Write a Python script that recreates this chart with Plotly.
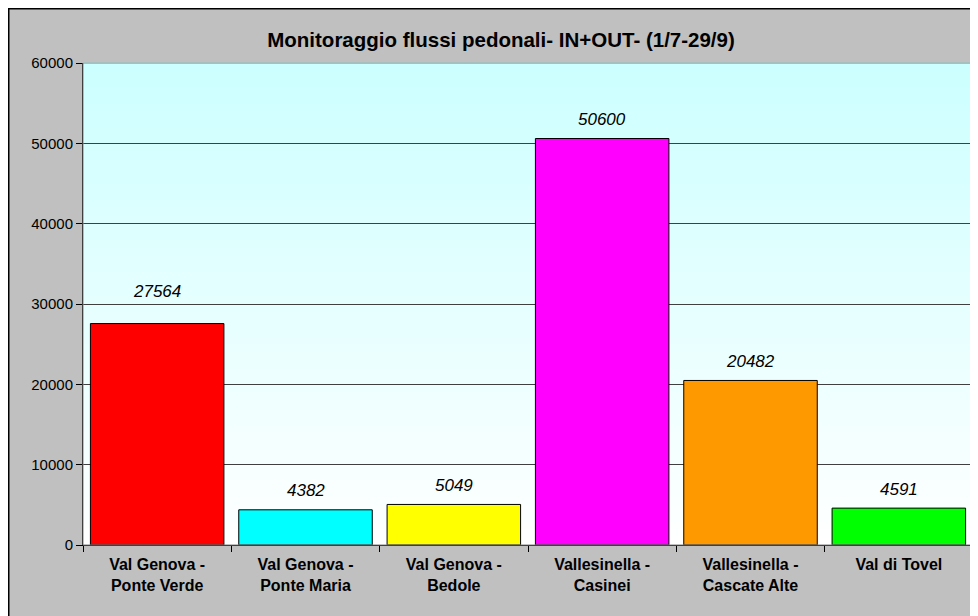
import plotly.graph_objects as go

categories = ["Val Genova -<br>Ponte Verde", "Val Genova -<br>Ponte Maria", "Val Genova -<br>Bedole",
              "Vallesinella -<br>Casinei", "Vallesinella -<br>Cascate Alte", "Val di Tovel"]
values = [27564, 4382, 5049, 50600, 20482, 4591]
bar_colors = ["#FF0000", "#00FFFF", "#FFFF00", "#FF00FF", "#FF9900", "#00FF00"]
label_shift = [32, 19, 19, 19, 19, 19]
title = "Monitoraggio flussi pedonali- IN+OUT- (1/7-29/9)"

FONT = "Liberation Sans, Arial, sans-serif"
# page has an 8px body margin, so the figure is 8px smaller than the window
W, H = 970, 608
ML, MR, MT, MB = 75, 5, 55, 71
PW, PH = W - ML - MR, H - MT - MB

def px_x(p):
    return (p - ML) / PW

def px_y(p):
    return (H - MB - p) / PH

fig = go.Figure()
fig.add_trace(go.Bar(
    x=categories, y=values,
    marker=dict(color=bar_colors, line=dict(color="#000000", width=1)),
    width=0.9,
))

shapes = []
# outer chart area (grey with black border)
shapes.append(dict(type="rect", xref="paper", yref="paper",
                   x0=px_x(0.75), x1=px_x(990), y0=px_y(630), y1=px_y(0.75),
                   fillcolor="#C0C0C0", line=dict(color="#000000", width=1.5), layer="below"))
# gradient plot background
n = 60
top = (204, 255, 255)
for i in range(n):
    t = (i + 0.5) / n  # 0 bottom -> 1 top
    c = tuple(round(255 + (top[k] - 255) * t) for k in range(3))
    shapes.append(dict(type="rect", xref="x domain", yref="y domain",
                       x0=0, x1=1, y0=i / n, y1=(i + 1) / n + 0.002,
                       fillcolor="rgb(%d,%d,%d)" % c, line=dict(width=0), layer="below"))
# plot area border
shapes.append(dict(type="rect", xref="x domain", yref="y domain", x0=0, x1=1, y0=0, y1=1,
                   line=dict(color="#808080", width=1), fillcolor="rgba(0,0,0,0)", layer="above"))

annotations = []
for cat, v, s in zip(categories, values, label_shift):
    annotations.append(dict(x=cat, y=v, text=str(v), showarrow=False, yshift=s,
                            yanchor="middle",
                            font=dict(family=FONT, size=17, style="italic", color="#000000")))

fig.update_layout(
    width=W, height=H,
    margin=dict(l=ML, r=MR, t=MT, b=MB, pad=0),
    paper_bgcolor="#FFFFFF",
    plot_bgcolor="rgba(0,0,0,0)",
    showlegend=False,
    bargap=0.1,
    title=dict(text="<b>" + title + "</b>", x=(501 - 8) / W, xref="container", xanchor="center",
               y=1 - 32 / H, yref="container", yanchor="middle",
               font=dict(family=FONT, size=20.5, color="#000000")),
    shapes=shapes,
    annotations=annotations,
    xaxis=dict(
        showgrid=False, tickson="boundaries", ticks="outside", ticklen=6, tickcolor="#000000",
        showline=True, linecolor="#000000", linewidth=1, ticklabelstandoff=5,
        tickfont=dict(family=FONT, size=16, color="#000000", weight="bold"),
    ),
    yaxis=dict(
        range=[0, 60000], dtick=10000, tickformat="d", showgrid=True, gridcolor="#404040", gridwidth=1,
        ticks="outside", ticklen=6, tickcolor="#000000",
        showline=True, linecolor="#000000", linewidth=1, zeroline=False,
        tickfont=dict(family=FONT, size=15, color="#000000"),
    ),
)

fig.write_html("out.html")
